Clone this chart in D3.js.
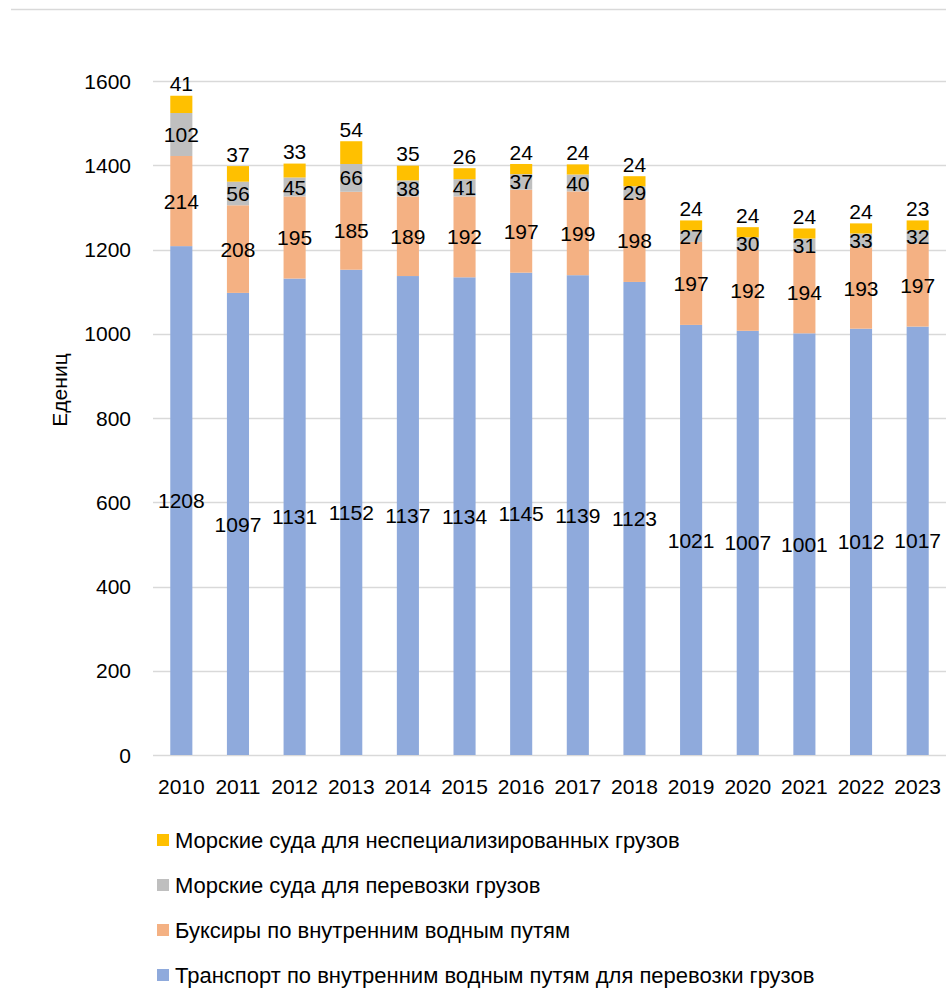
<!DOCTYPE html>
<html><head><meta charset="utf-8">
<script src="https://cdn.jsdelivr.net/npm/d3@7"></script>
<style>body{margin:0;background:#fff}svg{display:block}text{font-family:"Liberation Sans",Arial,sans-serif;fill:#000}</style>
</head><body><svg id="c" width="946" height="1005"></svg>
<script>
const years = ["2010","2011","2012","2013","2014","2015","2016","2017","2018","2019","2020","2021","2022","2023"];
const inland = [1208,1097,1131,1152,1137,1134,1145,1139,1123,1021,1007,1001,1012,1017];
const tugs = [214,208,195,185,189,192,197,199,198,197,192,194,193,197];
const seaCargo = [102,56,45,66,38,41,37,40,29,27,30,31,33,32];
const seaGeneral = [41,37,33,54,35,26,24,24,24,24,24,24,24,23];
const seriesNames = ["Транспорт по внутренним водным путям для перевозки грузов","Буксиры по внутренним водным путям","Морские суда для перевозки грузов","Морские суда для неспециализированных грузов"];
const colors = ["#8FAADC","#F4B183","#BFBFBF","#FFC000"];
const yTicks = [0,200,400,600,800,1000,1200,1400,1600];
const yTitle = "Едениц";

const svg = d3.select("#c");
const x = d3.scaleBand().domain(years).range([153,946]).paddingInner(0.61).paddingOuter(0.305);
const y = d3.scaleLinear().domain([0,1600]).range([755,81]);

svg.append("line").attr("x1",11).attr("x2",946).attr("y1",9.5).attr("y2",9.5).attr("stroke","#D9D9D9").attr("stroke-width",1.5);

svg.append("g").selectAll("line").data(yTicks).join("line")
  .attr("x1",153).attr("x2",946).attr("y1",d=>Math.round(y(d))+0.5).attr("y2",d=>Math.round(y(d))+0.5)
  .attr("stroke","#D9D9D9").attr("stroke-width",1.3);
svg.append("g").selectAll("text").data(yTicks).join("text")
  .attr("x",131).attr("y",d=>y(d)).attr("dy","0.36em").attr("text-anchor","end").attr("font-size",21).text(d=>d);
svg.append("text").attr("transform","translate(67,390) rotate(-90)").attr("text-anchor","middle").attr("font-size",21).text(yTitle);

const table = years.map((yr,i)=>({year:yr,s0:inland[i],s1:tugs[i],s2:seaCargo[i],s3:seaGeneral[i]}));
const keys = ["s0","s1","s2","s3"];
const stacked = d3.stack().keys(keys)(table);

const g = svg.append("g");
stacked.forEach((layer,li)=>{
  g.append("g").selectAll("rect").data(layer).join("rect")
   .attr("x",d=>x(d.data.year)).attr("width",x.bandwidth())
   .attr("y",d=>y(d[1])).attr("height",d=>y(d[0])-y(d[1])).attr("fill",colors[li]);
});
stacked.forEach((layer,li)=>{
  g.append("g").selectAll("text").data(layer).join("text")
   .attr("x",d=>x(d.data.year)+x.bandwidth()/2)
   .attr("y",d=> li===3 ? y(d[1])-12 : (y(d[0])+y(d[1]))/2)
   .attr("dy","0.36em").attr("text-anchor","middle").attr("font-size",21)
   .text(d=>d.data[keys[li]]);
});

svg.append("g").selectAll("text").data(years).join("text")
  .attr("x",d=>x(d)+x.bandwidth()/2).attr("y",786).attr("dy","0.36em").attr("text-anchor","middle").attr("font-size",21).text(d=>d);

const legendOrder = [3,2,1,0];
const lg = svg.append("g").selectAll("g").data(legendOrder).join("g")
  .attr("transform",(d,i)=>`translate(157,${840+i*45})`);
lg.append("rect").attr("x",0).attr("y",-6).attr("width",12).attr("height",12).attr("fill",d=>colors[d]);
lg.append("text").attr("x",18).attr("y",0).attr("dy","0.36em").attr("font-size",22).text(d=>seriesNames[d]);
</script></body></html>
